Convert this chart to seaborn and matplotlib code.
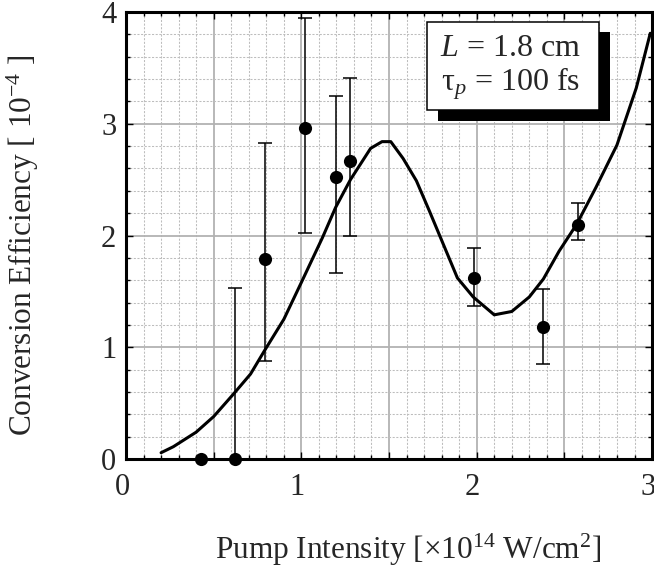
import numpy as np
import pandas as pd
import matplotlib
matplotlib.use("Agg")
import matplotlib.pyplot as plt
import matplotlib.ticker as mticker
import matplotlib.patheffects as pe
import matplotlib.transforms as mtransforms
from matplotlib.patches import Rectangle
import seaborn as sns

# ---- data ----
curve_x = [0.20, 0.27, 0.40, 0.50, 0.615, 0.71, 0.79, 0.90, 1.00, 1.12, 1.195, 1.28,
           1.395, 1.46, 1.51, 1.58, 1.656, 1.73, 1.81, 1.89, 1.98, 2.10, 2.20, 2.30,
           2.38, 2.47, 2.57, 2.68, 2.80, 2.91, 2.99]
curve_y = [0.056, 0.11, 0.24, 0.38, 0.585, 0.76, 0.97, 1.25, 1.58, 1.98, 2.25, 2.50,
           2.78, 2.84, 2.84, 2.69, 2.49, 2.22, 1.92, 1.62, 1.45, 1.29, 1.32, 1.45,
           1.61, 1.86, 2.10, 2.43, 2.81, 3.32, 3.81]

pts_x = [0.43, 0.62, 0.79, 1.02, 1.195, 1.275, 1.985, 2.38, 2.58]
pts_y = [0.0, 0.0, 1.79, 2.96, 2.52, 2.67, 1.62, 1.18, 2.09]
err_lo = [0.0, 0.0, 0.88, 2.02, 1.66, 2.00, 1.37, 0.85, 1.96]
err_hi = [0.0, 1.53, 2.83, 3.95, 3.25, 3.41, 1.89, 1.52, 2.29]

x_ticks = [0, 1, 2, 3]
y_ticks = [0, 1, 2, 3, 4]

legend_lines = ["$\\mathit{L}$ = 1.8 cm", "τ$_{\\mathit{p}}$ = 100 fs"]
x_label = "Pump Intensity [×10$^{14}$ W/cm$^{2}$]"
y_label = "Conversion Efficiency [ 10$^{-4}$ ]"

# ---- style ----
sns.set_theme(style="ticks")
plt.rcParams['font.family'] = ['Liberation Serif', 'DejaVu Serif']
plt.rcParams['mathtext.fontset'] = 'custom'
plt.rcParams['mathtext.rm'] = 'Liberation Serif'
plt.rcParams['mathtext.it'] = 'Liberation Serif:italic'
plt.rcParams['mathtext.bf'] = 'Liberation Serif:bold'

fig = plt.figure(figsize=(6.54, 5.73), dpi=100)
ax = fig.add_axes([0.1927, 0.199, 0.8043, 0.780])

curve_df = pd.DataFrame({"x": curve_x, "y": curve_y})
pts_df = pd.DataFrame({"x": pts_x, "y": pts_y})

sns.lineplot(data=curve_df, x="x", y="y", ax=ax, color="black", linewidth=2.2,
             estimator=None, sort=False, zorder=3)

ex = np.array(pts_x)
ey = np.array(pts_y)
lo = ey - np.array(err_lo)
hi = np.array(err_hi) - ey
ax.errorbar(ex[1:], ey[1:], yerr=[lo[1:], hi[1:]], fmt='none', ecolor='black',
            elinewidth=1.1, capsize=5, capthick=1.1, zorder=4)

sns.scatterplot(data=pts_df, x="x", y="y", ax=ax, color="black", s=90,
                edgecolor="black", linewidth=0, zorder=6, clip_on=False)

ax.set_xlim(0, 3)
ax.set_ylim(0, 4)

ax.xaxis.set_major_locator(mticker.MultipleLocator(0.5))
ax.xaxis.set_minor_locator(mticker.MultipleLocator(0.1))
ax.xaxis.set_major_formatter(mticker.FuncFormatter(
    lambda v, p: f"{int(round(v))}" if abs(v - round(v)) < 1e-6 and int(round(v)) in x_ticks else ""))
ax.yaxis.set_major_locator(mticker.FixedLocator(y_ticks))
ax.yaxis.set_minor_locator(mticker.MultipleLocator(0.2))
ax.yaxis.set_major_formatter(mticker.FuncFormatter(lambda v, p: f"{int(round(v))}"))

ax.grid(which='major', color='#b2b2b2', linewidth=1.3, linestyle='-', zorder=0)
ax.grid(which='minor', color='#bdbdbd', linewidth=0.75, linestyle=(0, (2, 1.5)), zorder=0)
ax.set_axisbelow(True)

ax.tick_params(which='both', direction='in', top=True, right=True, color='black',
               width=1.0)
ax.tick_params(which='major', length=5)
ax.tick_params(which='minor', length=3)
ax.tick_params(axis='x', which='major', labelsize=22, pad=10)
ax.tick_params(axis='y', which='major', labelsize=22, pad=7)

for s in ax.spines.values():
    s.set_visible(True)
    s.set_color('black')
    s.set_linewidth(2.2)

ax.set_xlabel(x_label, fontsize=22.5)
ax.set_ylabel(y_label, fontsize=22.5)
ax.xaxis.label.set_va('center')
ax.yaxis.label.set_va('center')
ax.xaxis.set_label_coords(0.536, -0.203)
ax.yaxis.set_label_coords(-0.196, 0.479)

# legend-like annotation box with a solid drop shadow
box = Rectangle((1.715, 3.12), 0.98, 0.793, facecolor='white', edgecolor='black',
                linewidth=1.1, zorder=7)
box.set_path_effects([
    pe.SimplePatchShadow(offset=(8, -7.5), shadow_rgbFace='black', alpha=1.0),
    pe.Normal()])
ax.add_patch(box)
ax.text(2.19, 3.50, "\n".join(legend_lines), ha='center', va='center',
        fontsize=23, multialignment='center', linespacing=1.08, zorder=8)

# reference tick labels sit slightly left of their tick positions
fig.canvas.draw()
shift = mtransforms.ScaledTranslation(-4 / 100, 0, fig.dpi_scale_trans)
for t in ax.xaxis.get_major_ticks():
    t.label1.set_transform(t.label1.get_transform() + shift)

fig.savefig("out.png", dpi=100)
